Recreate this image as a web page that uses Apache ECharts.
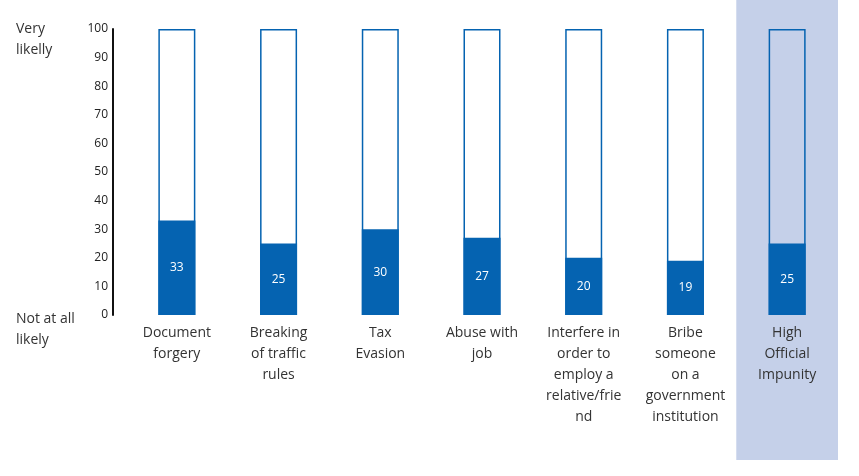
<!DOCTYPE html>
<html>
<head>
<meta charset="utf-8">
<script src="https://cdn.jsdelivr.net/npm/echarts@6/dist/echarts.min.js"></script>
<style>
	html, body { margin: 0; padding: 0; background: #fff; }
	#chart-div { width: 859px; height: 476px; }
</style>
</head>
<body>
<div id="chart-div"></div>
<script>
// categories and values
var g_categories = [
	"Document\nforgery",
	"Breaking\nof traffic\nrules",
	"Tax\nEvasion",
	"Abuse with\njob",
	"Interfere in\norder to\nemploy a\nrelative/frie\nnd",
	"Bribe\nsomeone\non a\ngovernment\ninstitution",
	"High\nOfficial\nImpunity"
];
var g_values = [33, 25, 30, 27, 20, 19, 25];
// scale ceiling, drawn as the outline of each bar
var g_scale_max = [100, 100, 100, 100, 100, 100, 100];
// highlighted category
var g_highlight = ["High\nOfficial\nImpunity"];
var g_y_ticks = [0, 10, 20, 30, 40, 50, 60, 70, 80, 90, 100];

var BLUE = "#0563b1";
var FONT = "'Open Sans', sans-serif";

var chart = echarts.init(document.getElementById("chart-div"));

var option = {
	animation: false,
	grid: { left: 126, right: 21, top: 29, bottom: 161 },
	xAxis: {
		type: "category",
		data: g_categories,
		axisLine: { show: false },
		axisTick: { show: false },
		axisLabel: {
			interval: 0,
			margin: 8,
			color: "#333",
			fontFamily: FONT,
			fontSize: 14,
			lineHeight: 21
		}
	},
	yAxis: {
		type: "value",
		min: g_y_ticks[0],
		max: g_y_ticks[g_y_ticks.length - 1],
		interval: 10,
		offset: 13,
		splitLine: { show: false },
		axisTick: { show: false },
		axisLine: { show: true, lineStyle: { color: "#111", width: 2 } },
		axisLabel: { color: "#222", fontFamily: FONT, fontSize: 12, margin: 5 }
	},
	graphic: [
		{ type: "text", left: 16, top: 19,
		  style: { text: "Very\nlikelly", fill: "#333", font: "14px " + FONT, lineHeight: 21 } },
		{ type: "text", left: 16, top: 309,
		  style: { text: "Not at all\nlikely", fill: "#333", font: "14px " + FONT, lineHeight: 21 } }
	],
	series: [
		{
			// highlighted background band
			type: "custom",
			silent: true,
			z: 0,
			clip: false,
			data: g_highlight.map(c => [c, 0]),
			renderItem: function (params, api) {
				var x = api.coord([api.value(0), 0])[0];
				var w = api.size([1, 0])[0];
				return {
					type: "rect",
					shape: { x: x - w / 2, y: 0, width: w, height: 460 },
					style: { fill: "#c5d0e9" }
				};
			}
		},
		{
			type: "bar",
			data: g_values,
			barWidth: 37,
			z: 2,
			itemStyle: { color: BLUE },
			label: {
				show: true,
				position: "inside",
				color: "#fff",
				fontFamily: FONT,
				fontSize: 12
			}
		},
		{
			type: "bar",
			data: g_scale_max,
			barWidth: 37,
			barGap: "-100%",
			z: 3,
			silent: true,
			itemStyle: { color: "transparent", borderColor: BLUE, borderWidth: 1.5 }
		}
	]
};

chart.setOption(option);
window.addEventListener("resize", chart.resize);
</script>
</body>
</html>
